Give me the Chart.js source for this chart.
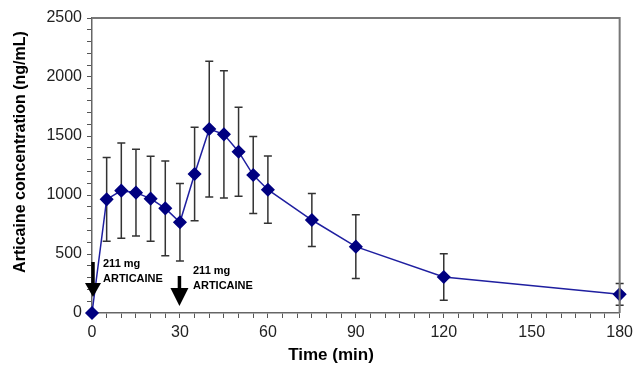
<!DOCTYPE html>
<html>
<head>
<meta charset="utf-8">
<script src="https://cdn.jsdelivr.net/npm/chart.js@4/dist/chart.umd.min.js"></script>
<style>
html,body{margin:0;padding:0;background:#fff;}
#wrap{width:638px;height:367px;position:relative;}
</style>
</head>
<body>
<div id="wrap"><canvas id="c" width="638" height="367"></canvas></div>
<script>
const times = [0, 5, 10, 15, 20, 25, 30, 35, 40, 45, 50, 55, 60, 75, 90, 120, 180];
const conc  = [0, 963, 1037, 1020, 969, 887, 769, 1178, 1559, 1514, 1367, 1169, 1045, 788, 562, 305, 158];
const sd    = [0, 354, 403, 368, 360, 402, 329, 397, 575, 540, 377, 326, 285, 225, 270, 198, 93];
const doseTimes = [0, 30];
const doseLabels = [["211 mg", "ARTICAINE"], ["211 mg", "ARTICAINE"]];
const xTickLabels = [0, 30, 60, 90, 120, 150, 180];
const yTickLabels = [0, 500, 1000, 1500, 2000, 2500];
const xTitle = "Time (min)";
const yTitle = "Articaine concentration (ng/mL)";

const FONT = "'Liberation Sans', Arial, sans-serif";

const extras = {
  id: 'extras',
  beforeDatasetsDraw(chart) {
    const ctx = chart.ctx, xs = chart.scales.x, ys = chart.scales.y;
    ctx.save();
    ctx.strokeStyle = '#333';
    ctx.lineWidth = 1.5;
    for (let i = 0; i < times.length; i++) {
      if (!sd[i]) continue;
      const px = xs.getPixelForValue(times[i]);
      const top = ys.getPixelForValue(conc[i] + sd[i]);
      const bot = ys.getPixelForValue(conc[i] - sd[i]);
      ctx.beginPath();
      ctx.moveTo(px, top); ctx.lineTo(px, bot);
      ctx.moveTo(px - 4, top); ctx.lineTo(px + 4, top);
      ctx.moveTo(px - 4, bot); ctx.lineTo(px + 4, bot);
      ctx.stroke();
    }
    ctx.restore();
  },
  afterDraw(chart) {
    const ctx = chart.ctx, a = chart.chartArea, xs = chart.scales.x, ys = chart.scales.y;
    ctx.save();
    // frame top & right
    ctx.strokeStyle = '#777';
    ctx.lineWidth = 2;
    ctx.beginPath();
    ctx.moveTo(a.left, a.top); ctx.lineTo(a.right, a.top); ctx.lineTo(a.right, a.bottom);
    ctx.stroke();
    // dose arrows and labels
    const arrowSpec = [
      {dx: 1, top: 262, headStart: 283, tip: 297, hw: 8, tx: 103, ty1: 264, ty2: 279},
      {dx: -0.5, top: 276, headStart: 288, tip: 306, hw: 9, tx: 193, ty1: 271, ty2: 286}
    ];
    ctx.fillStyle = '#000';
    ctx.strokeStyle = '#000';
    doseTimes.forEach((t, i) => {
      const s = arrowSpec[i];
      const px = xs.getPixelForValue(t) + s.dx;
      ctx.lineWidth = 3.5;
      ctx.beginPath(); ctx.moveTo(px, s.top); ctx.lineTo(px, s.headStart + 1); ctx.stroke();
      ctx.beginPath();
      ctx.moveTo(px - s.hw, s.headStart); ctx.lineTo(px + s.hw, s.headStart); ctx.lineTo(px, s.tip);
      ctx.closePath(); ctx.fill();
      ctx.font = "bold 11px " + FONT;
      ctx.textAlign = 'left'; ctx.textBaseline = 'middle';
      ctx.fillText(doseLabels[i][0], s.tx, s.ty1);
      ctx.fillText(doseLabels[i][1], s.tx, s.ty2);
    });
    // axis titles
    ctx.fillStyle = '#000';
    ctx.font = "bold 17px " + FONT;
    ctx.textAlign = 'center'; ctx.textBaseline = 'middle';
    ctx.fillText(xTitle, 331, 355);
    ctx.save();
    ctx.translate(21, 152);
    ctx.rotate(-Math.PI / 2);
    ctx.font = "bold 16px " + FONT;
    ctx.fillText(yTitle, 0, 0);
    ctx.restore();
    ctx.restore();
  }
};

new Chart(document.getElementById('c'), {
  type: 'line',
  data: {
    datasets: [{
      data: times.map((t, i) => ({x: t, y: conc[i]})),
      borderColor: '#1f1fa0',
      borderWidth: 1.5,
      backgroundColor: '#000080',
      pointBackgroundColor: '#000080',
      pointBorderColor: '#000080',
      pointStyle: 'rectRot',
      pointRadius: 6,
      pointHoverRadius: 6,
      tension: 0,
      clip: false
    }]
  },
  options: {
    responsive: false,
    animation: false,
    events: [],
    layout: {padding: {top: 18, right: 17, left: 0, bottom: 0}},
    plugins: {legend: {display: false}, tooltip: {enabled: false}},
    scales: {
      x: {
        type: 'linear', min: 0, max: 180,
        afterFit(s) { s.height = 54; },
        ticks: {
          stepSize: 5, autoSkip: false, maxRotation: 0, padding: 5,
          color: '#222', font: {family: FONT, size: 16},
          callback: v => xTickLabels.includes(v) ? String(v) : ''
        },
        grid: {drawOnChartArea: false, tickLength: 5, color: '#555', lineWidth: 1},
        border: {color: '#666', width: 1.5}
      },
      y: {
        min: 0, max: 2500,
        afterFit(s) { s.width = 92; },
        ticks: {
          stepSize: 100, autoSkip: false, padding: 5,
          color: '#222', font: {family: FONT, size: 16},
          callback: v => yTickLabels.includes(v) ? String(v) : ''
        },
        grid: {drawOnChartArea: false, tickLength: 5, color: '#555', lineWidth: 1},
        border: {color: '#666', width: 1.5}
      }
    }
  },
  plugins: [extras]
});
</script>
</body>
</html>
